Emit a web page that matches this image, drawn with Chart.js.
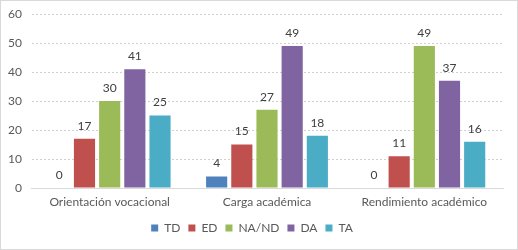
<!DOCTYPE html>
<html>
<head>
<meta charset="utf-8">
<script src="https://cdn.jsdelivr.net/npm/chart.js@4"></script>
<style>
  html, body { margin: 0; padding: 0; background: #fff; }
  #wrap { width: 518px; height: 250px; box-sizing: border-box; border: 1px solid #d9d9d9; }
</style>
</head>
<body>
<div id="wrap"><canvas id="chart" width="516" height="248"></canvas></div>
<script>
const categories = ["Orientación vocacional", "Carga académica", "Rendimiento académico"];
const seriesNames = ["TD", "ED", "NA/ND", "DA", "TA"];
const TD = [0, 4, 0];
const ED = [17, 15, 11];
const NAND = [30, 27, 49];
const DA = [41, 49, 37];
const TA = [25, 18, 16];
const yTicks = [0, 10, 20, 30, 40, 50, 60];

const colors = ["#4f81bd", "#c0504d", "#9bbb59", "#8064a2", "#4bacc6"];
const values = [TD, ED, NAND, DA, TA];

// value labels above each bar
const barLabels = {
    id: 'barLabels',
    afterDatasetsDraw(chart) {
        const ctx = chart.ctx;
        ctx.save();
        ctx.font = '12px Lato';
        ctx.fillStyle = '#404040';
        ctx.textAlign = 'center';
        ctx.textBaseline = 'middle';
        chart.data.datasets.forEach((ds, i) => {
            chart.getDatasetMeta(i).data.forEach((bar, j) => {
                ctx.fillText(ds.data[j], bar.x, bar.y - 13);
            });
        });
        ctx.restore();
    }
};

new Chart(document.getElementById("chart"), {
    type: 'bar',
    data: {
        labels: categories,
        datasets: seriesNames.map((name, i) => ({
            label: name,
            data: values[i],
            backgroundColor: colors[i],
            categoryPercentage: 0.8,
            barPercentage: 0.84
        }))
    },
    plugins: [barLabels],
    options: {
        responsive: false,
        animation: false,
        layout: { padding: { top: 2, right: 14, left: 0, bottom: 5 } },
        scales: {
            x: {
                grid: { display: false, tickLength: 0 },
                border: { color: '#d9d9d9' },
                ticks: { color: '#595959', font: { family: 'Lato', size: 12 }, padding: 7 },
                afterFit(scale) { scale.height = 26; }
            },
            y: {
                min: 0,
                max: 60,
                afterBuildTicks(axis) { axis.ticks = yTicks.map(v => ({ value: v })); },
                grid: { color: '#d0d0d0', tickLength: 0 },
                border: { display: true, color: 'rgba(0,0,0,0)', dash: [2, 2] },
                ticks: { color: '#595959', font: { family: 'Lato', size: 12, lineHeight: 0.7 }, padding: 9 },
                afterFit(scale) { scale.width = 30; }
            }
        },
        plugins: {
            legend: {
                position: 'bottom',
                labels: {
                    boxWidth: 7,
                    boxHeight: 7,
                    padding: 8,
                    color: '#595959',
                    font: { family: 'Lato', size: 12 }
                }
            },
            tooltip: { enabled: false }
        }
    }
});
</script>
</body>
</html>
